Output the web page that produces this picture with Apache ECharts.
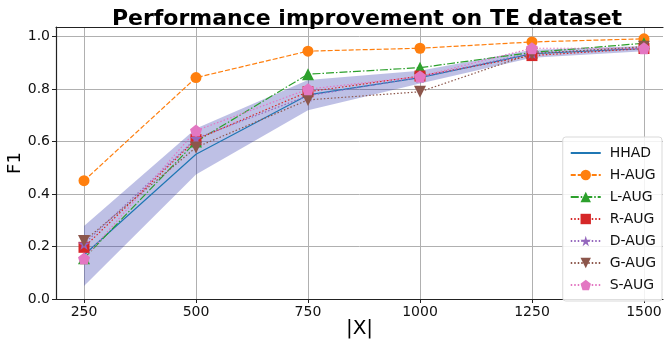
<!DOCTYPE html>
<html>
<head>
<meta charset="utf-8">
<script src="https://cdn.jsdelivr.net/npm/echarts@6/dist/echarts.min.js"></script>
<style>
  html, body { margin: 0; padding: 0; background: #fff; }
  #chart { width: 665px; height: 343px; }
</style>
</head>
<body>
<div id="chart"></div>
<script>
// x values (|X|)
const sizes = [250, 500, 750, 1000, 1250, 1500]
const yTicks = [0, 0.2, 0.4, 0.6, 0.8, 1.0]

// F1 per method
const hhad = [0.168, 0.552, 0.778, 0.844, 0.935, 0.955]
const hAug = [0.451, 0.844, 0.945, 0.956, 0.980, 0.992]
const lAug = [0.155, 0.600, 0.857, 0.882, 0.940, 0.975]
const rAug = [0.197, 0.608, 0.790, 0.850, 0.928, 0.955]
const dAug = [0.210, 0.612, 0.775, 0.845, 0.938, 0.957]
const gAug = [0.221, 0.578, 0.759, 0.790, 0.935, 0.962]
const sAug = [0.154, 0.642, 0.800, 0.848, 0.956, 0.956]

// shaded band around HHAD
const bandLow = [0.050, 0.475, 0.720, 0.822, 0.920, 0.945]
const bandHigh = [0.278, 0.650, 0.835, 0.870, 0.950, 0.965]

const starPath = 'path://M50,0 L61,35 L98,35 L68,57 L79,91 L50,70 L21,91 L32,57 L2,35 L39,35 Z'
const pentaPath = 'path://M50,0 L98,36 L80,95 L20,95 L2,36 Z'

const chart = echarts.init(document.getElementById('chart'))

const pairs = vals => vals.map((v, i) => [sizes[i], v])

const mkLine = (name, vals, color, dash, symbol, size, extra) => Object.assign({
  name: name,
  type: 'line',
  data: pairs(vals),
  z: 3,
  color: color,
  symbol: symbol,
  symbolSize: size,
  showAllSymbol: true,
  lineStyle: { color: color, width: 1.2, type: dash },
  itemStyle: { color: color },
  emphasis: { disabled: true }
}, extra || {})

// band polygon: drawn once, through the axis scales
const renderBand = (params, api) => {
  if (params.dataIndex !== 0) return
  const top = sizes.map((x, i) => api.coord([x, bandHigh[i]]))
  const bottom = sizes.map((x, i) => api.coord([x, bandLow[i]])).reverse()
  return {
    type: 'polygon',
    shape: { points: top.concat(bottom) },
    style: { fill: 'rgba(40,45,170,0.3)' }
  }
}

const font = 'DejaVu Sans'

const option = {
  animation: false,
  title: {
    text: 'Performance improvement on TE dataset',
    left: 362,
    textAlign: 'center',
    top: 3,
    textStyle: { fontFamily: font, fontSize: 22, fontWeight: 'bold', color: '#000' }
  },
  grid: { left: 56, right: 2, top: 27, bottom: 44, containLabel: false, outerBoundsMode: 'none' },
  legend: {
    orient: 'vertical',
    right: 3,
    top: 137,
    padding: [9, 6, 9, 7],
    itemGap: 8,
    itemWidth: 30,
    itemHeight: 13,
    backgroundColor: 'rgba(255,255,255,0.85)',
    borderColor: '#d9d9d9',
    borderWidth: 1,
    borderRadius: 3,
    textStyle: { fontFamily: font, fontSize: 14, color: '#111', padding: [0, 0, 0, 4] },
    data: [
      { name: 'HHAD', itemStyle: { opacity: 0 } },
      'H-AUG', 'L-AUG', 'R-AUG', 'D-AUG', 'G-AUG', 'S-AUG'
    ]
  },
  xAxis: [{
    type: 'value',
    min: 187.5,
    max: 1542.5,
    name: '|X|',
    nameLocation: 'middle',
    nameGap: 20,
    nameMoveOverlap: false,
    nameTextStyle: { fontFamily: font, fontSize: 20, color: '#000' },
    axisLine: { show: true, lineStyle: { color: '#222', width: 1.2 } },
    axisTick: { show: true, customValues: sizes, length: 4, lineStyle: { color: '#222' } },
    axisLabel: {
      customValues: sizes, fontFamily: font, fontSize: 14, color: '#111', margin: 6,
      formatter: v => String(v)
    },
    splitLine: { show: true, lineStyle: { color: '#b0b0b0', width: 1 } }
  }, {
    type: 'value',
    position: 'top',
    min: 187.5,
    max: 1542.5,
    axisLine: { show: true, lineStyle: { color: '#222', width: 1.2 } },
    axisTick: { show: false },
    axisLabel: { show: false },
    splitLine: { show: false }
  }],
  yAxis: {
    type: 'value',
    min: 0,
    max: 1.037,
    interval: 0.2,
    name: 'F1',
    nameLocation: 'middle',
    nameGap: 32,
    nameMoveOverlap: false,
    nameTextStyle: { fontFamily: font, fontSize: 18, color: '#000' },
    axisLine: { show: true, lineStyle: { color: '#222', width: 1.2 } },
    axisTick: { show: true, length: 4, lineStyle: { color: '#222' } },
    axisLabel: {
      fontFamily: font, fontSize: 14, color: '#111', margin: 6,
      showMaxLabel: false,
      formatter: v => yTicks.some(t => Math.abs(t - v) < 1e-6) ? v.toFixed(1) : ''
    },
    splitLine: { show: true, lineStyle: { color: '#b0b0b0', width: 1 } }
  },
  series: [
    {
      name: 'band',
      type: 'custom',
      renderItem: renderBand,
      data: sizes.map((x, i) => [x, bandLow[i], bandHigh[i]]),
      encode: { x: 0, y: [1, 2] },
      clip: true,
      z: 1,
      silent: true
    },
    mkLine('HHAD', hhad, '#1f77b4', 'solid', 'none', 0),
    mkLine('H-AUG', hAug, '#ff7f0e', [5, 2], 'circle', 11),
    mkLine('L-AUG', lAug, '#2ca02c', [8, 2, 1.5, 2], 'triangle', 12),
    mkLine('R-AUG', rAug, '#d62728', [1.5, 2], 'rect', 11),
    mkLine('D-AUG', dAug, '#9467bd', [1.5, 2], starPath, 12),
    mkLine('G-AUG', gAug, '#8c564b', [1.5, 2], 'triangle', 12, { symbolRotate: 180 }),
    mkLine('S-AUG', sAug, '#e377c2', [1.5, 2], pentaPath, 12)
  ]
}

chart.setOption(option)
</script>
</body>
</html>
